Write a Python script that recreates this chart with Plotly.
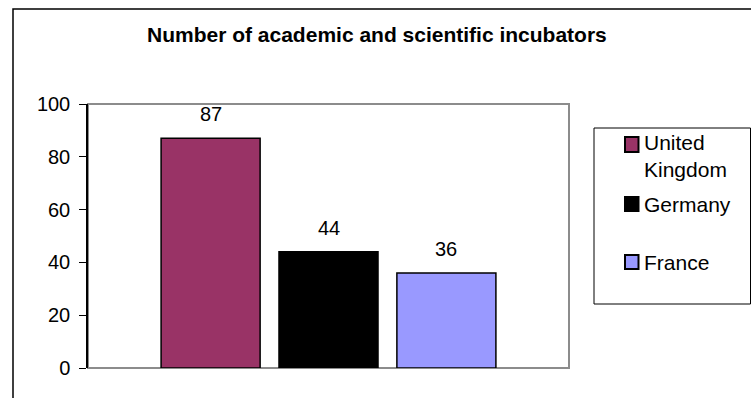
import plotly.graph_objects as go

# ---- data ----
series_names = ["United Kingdom", "Germany", "France"]
legend_labels = ["United<br>Kingdom", "Germany", "France"]
values = [87, 44, 36]
colors = ["#993366", "#000000", "#9999FF"]
y_ticks = [0, 20, 40, 60, 80, 100]
title_text = "Number of academic and scientific incubators"

W, H = 751, 398
L, R, T, B = 88, 569, 104, 368  # plot area in pixels
FONT = "Liberation Sans, Arial, sans-serif"


def px_x(px):
    return (px - L) / (R - L)


def px_y(py):
    return (B - py) / (B - T)


fig = go.Figure()
for name, v, c in zip(series_names, values, colors):
    fig.add_trace(go.Bar(
        x=[name], y=[v], name=name, width=0.84,
        marker=dict(color=c, line=dict(color="#000000", width=1.5)),
        showlegend=False,
    ))
    fig.add_annotation(x=name, y=v, xref="x", yref="y", text=str(v),
                       showarrow=False, yanchor="bottom", yshift=11,
                       font=dict(family=FONT, size=20, color="#000000"))

shapes = []
# outer chart border (extends past the window on right/bottom)
shapes.append(dict(type="rect", xref="paper", yref="paper",
                   x0=px_x(13), x1=px_x(W + 20), y0=px_y(H + 20), y1=px_y(9),
                   line=dict(color="#000000", width=1.5), layer="below"))
# plot area frame (gray)
shapes.append(dict(type="rect", xref="paper", yref="paper",
                   x0=0, x1=1, y0=0, y1=1,
                   line=dict(color="#8C8C8C", width=2), layer="below"))
# legend box
shapes.append(dict(type="rect", xref="paper", yref="paper",
                   x0=px_x(594), x1=px_x(750.5), y0=px_y(304), y1=px_y(128),
                   line=dict(color="#000000", width=1), fillcolor="white"))

legend_rows = [(137, 152, 156), (197, 211, 204.5), (255, 269, 262.5)]
annotations = []
for lab, c, (m0, m1, ty) in zip(legend_labels, colors, legend_rows):
    shapes.append(dict(type="rect", xref="paper", yref="paper",
                       x0=px_x(625), x1=px_x(638.5), y0=px_y(m1), y1=px_y(m0),
                       line=dict(color="#000000", width=2), fillcolor=c))
    annotations.append(dict(xref="paper", yref="paper", x=px_x(642), y=px_y(ty),
                            text=lab, showarrow=False, xanchor="left", yanchor="middle",
                            align="left",
                            font=dict(family=FONT, size=21, color="#000000")))

annotations.append(dict(xref="paper", yref="paper", x=px_x(376.5), y=px_y(35),
                        text="<b>" + title_text + "</b>", showarrow=False,
                        xanchor="center", yanchor="middle",
                        font=dict(family=FONT, size=21, color="#000000")))

fig.update_layout(
    width=W, height=H,
    margin=dict(l=L, r=W - R, t=T, b=H - B, pad=0),
    paper_bgcolor="white", plot_bgcolor="white",
    barmode="overlay",
    showlegend=False,
    shapes=shapes,
    font=dict(family=FONT, color="#000000"),
    xaxis=dict(type="category", categoryorder="array", categoryarray=series_names,
               range=[-1.04, 3.04], showticklabels=False, ticks="",
               showgrid=False, zeroline=False, showline=False),
    yaxis=dict(range=[0, 100], tickvals=y_ticks, ticks="outside", ticklen=7,
               tickwidth=1, tickcolor="#000000", showline=True, linecolor="#000000",
               linewidth=1.5, showgrid=False, zeroline=False,
               tickfont=dict(family=FONT, size=20, color="#000000"),
               ticklabelstandoff=5),
)
for a in annotations:
    fig.add_annotation(**a)

fig.write_html("out.html")
